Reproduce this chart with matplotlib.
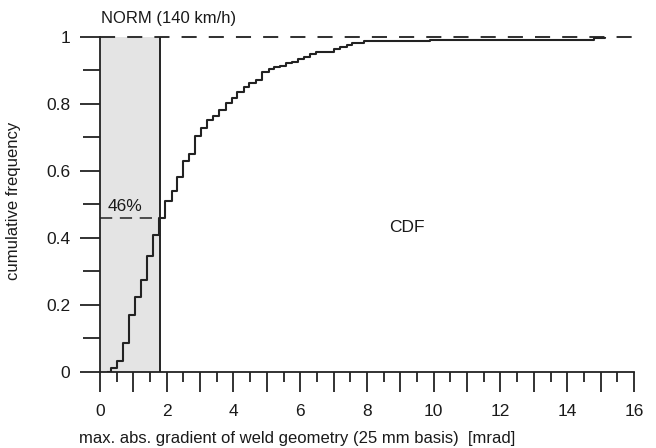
import matplotlib
matplotlib.use('Agg')
import matplotlib.pyplot as plt
from matplotlib.ticker import MultipleLocator, FuncFormatter

plt.rcParams['font.family'] = ['Liberation Sans', 'DejaVu Sans']

# empirical CDF: step positions [mrad] and cumulative frequency after each step
gradient = [0.25, 0.32, 0.50, 0.68, 0.88, 1.05, 1.23, 1.42, 1.60, 1.78, 1.95,
            2.15, 2.32, 2.50, 2.68, 2.85, 3.03, 3.22, 3.40, 3.58, 3.78, 3.95,
            4.12, 4.32, 4.48, 4.68, 4.85, 5.05, 5.22, 5.40, 5.58, 5.75, 5.93,
            6.12, 6.28, 6.47, 7.00, 7.20, 7.40, 7.55, 7.90, 9.90, 14.8, 15.14]
cum_freq = [0.0, 0.01, 0.032, 0.087, 0.169, 0.224, 0.274, 0.345, 0.408, 0.46, 0.51,
            0.54, 0.58, 0.629, 0.649, 0.704, 0.728, 0.751, 0.763, 0.781, 0.801, 0.816,
            0.836, 0.849, 0.861, 0.871, 0.896, 0.904, 0.909, 0.914, 0.921, 0.925, 0.933,
            0.940, 0.948, 0.955, 0.963, 0.970, 0.975, 0.982, 0.987, 0.990, 0.995, 1.0]

norm_limit = 1.8      # mrad, NORM (140 km/h)
share_below = 0.46    # share of welds below the limit

line_col = '#222222'
txt_col = '#1a1a1a'
fs = 12.5

fig = plt.figure(figsize=(6.56, 4.48), dpi=100)
ax = fig.add_axes([0.1524, 0.1703, 0.814, 0.7478])

# norm region
ax.axvspan(0, norm_limit, color='#e4e4e4', lw=0, zorder=0)
ax.plot([norm_limit, norm_limit], [0, 1], color=line_col, lw=1.4, zorder=2)
ax.plot([0, norm_limit], [share_below, share_below], color=line_col, lw=1.1,
        dashes=(8, 5), zorder=2)

# upper bound
ax.plot([0, 16], [1, 1], color='#333333', lw=1.45, dashes=(7.5, 6), clip_on=False, zorder=1)

# CDF
ax.step(gradient, cum_freq, where='post', color=line_col, lw=1.5, zorder=3)

ax.text(0.22, share_below + 0.01, '46%', fontsize=fs, color=txt_col, ha='left', va='bottom')
ax.text(2.07, 1.055, 'NORM (140 km/h)', fontsize=12, color=txt_col, ha='center', va='center')
ax.text(9.2, 0.43, 'CDF', fontsize=fs, color=txt_col, ha='center', va='center')

ax.set_xlim(0, 16)
ax.set_ylim(0, 1)
ax.spines['top'].set_visible(False)
ax.spines['right'].set_visible(False)
for s in ['left', 'bottom']:
    ax.spines[s].set_linewidth(1.3)
    ax.spines[s].set_color(line_col)

ax.xaxis.set_major_locator(MultipleLocator(1))
ax.xaxis.set_minor_locator(MultipleLocator(0.5))
ax.xaxis.set_major_formatter(FuncFormatter(lambda v, p: f'{v:g}' if v % 2 == 0 else ''))
ax.yaxis.set_major_locator(MultipleLocator(0.2))
ax.yaxis.set_minor_locator(MultipleLocator(0.1))
ax.yaxis.set_major_formatter(FuncFormatter(lambda v, p: f'{v:g}'))

ax.tick_params(which='major', direction='out', length=14.4, width=1.3, color=line_col,
               labelsize=fs, labelcolor=txt_col)
ax.tick_params(axis='x', which='major', pad=9)
ax.tick_params(axis='y', which='major', pad=7)
ax.tick_params(axis='x', which='minor', direction='out', length=7.2, width=1.3, color=line_col)
ax.tick_params(axis='y', which='minor', direction='out', length=12, width=1.3, color=line_col)

ax.set_xlabel('max. abs. gradient of weld geometry (25 mm basis)  [mrad]', fontsize=12,
              color=txt_col)
ax.xaxis.set_label_coords(0.37, -0.176)
ax.set_ylabel('cumulative frequency', fontsize=12, color=txt_col)
ax.yaxis.set_label_coords(-0.148, 0.51)

fig.savefig('out.png', dpi=100)
